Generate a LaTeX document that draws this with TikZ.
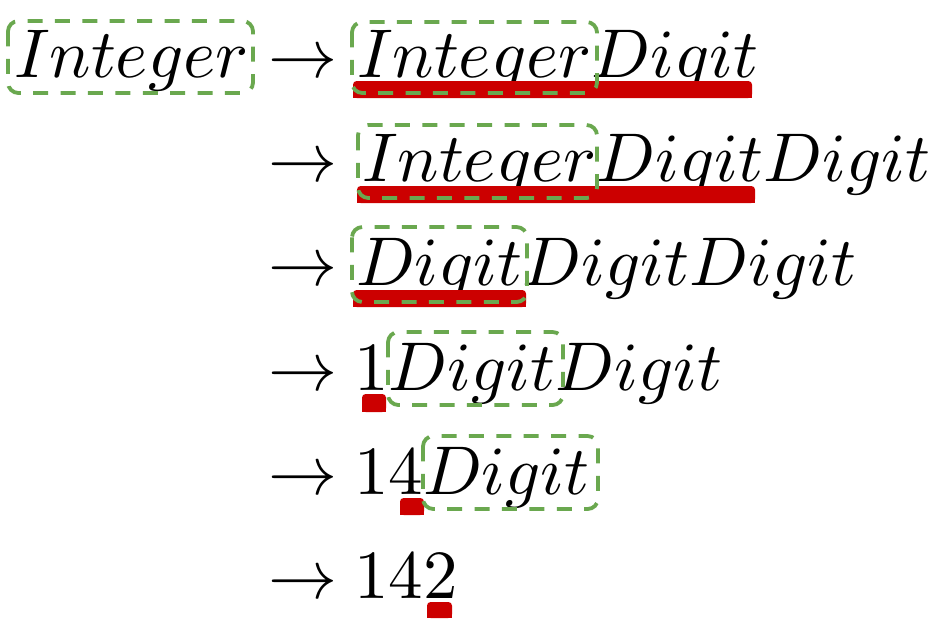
\documentclass[tikz,border=0pt]{standalone}
\usetikzlibrary{calc}
\definecolor{gboxc}{HTML}{6AA84F}
\definecolor{rbarc}{HTML}{CC0000}
\tikzset{
  tok/.style={inner sep=0pt, outer sep=0pt, anchor=base west, scale=1.725},
  gbox/.style={draw=gboxc, line width=0.95pt, dash pattern=on 3.75pt off 3.1pt, rounded corners=2.6pt},
  rbar/.style={fill=rbarc},
}
\newcommand\myredbar[4]{%
  \fill[rbar, rounded corners=0.9pt] (#1,#2) rectangle (#3,#4);
  \fill[rbar] (#1,#2+6) rectangle (#3,#4);}
\begin{document}
\begin{tikzpicture}[x=0.25pt,y=-0.25pt]
\useasboundingbox (0,0) rectangle (944,634);
% ---- text ----
% row 1
\node[tok] (l0)  at (14,77) {$Integer$};
\node[tok] (a1)  at (268,77) {$\to$};
\node[tok] (r1a) at (357,77) {$Integer$};
\node[tok] (r1b) at (r1a.base east) {$Digit$};
% row 2
\node[tok] (a2)  at (268,181) {$\to$};
\node[tok] (r2a) at (362,181) {$Integer$};
\node[tok] (r2b) at (r2a.base east) {$Digit$};
\node[tok] (r2c) at (r2b.base east) {$Digit$};
% row 3
\node[tok] (a3)  at (268,285) {$\to$};
\node[tok] (r3a) at (356,285) {$Digit$};
\node[tok] (r3b) at (r3a.base east) {$Digit$};
\node[tok] (r3c) at (r3b.base east) {$Digit$};
% row 4
\node[tok] (a4)  at (268,390) {$\to$};
\node[tok] (r4a) at (354,390) {$1$};
\node[tok] (r4b) at (r4a.base east) {$Digit$};
\node[tok] (r4c) at (r4b.base east) {$Digit$};
% row 5
\node[tok] (a5)  at (268,494) {$\to$};
\node[tok] (r5a) at (354,494) {$1$};
\node[tok] (r5b) at (r5a.base east) {$4$};
\node[tok] (r5c) at (r5b.base east) {$Digit$};
% row 6
\node[tok] (a6)  at (268,598) {$\to$};
\node[tok] (r6a) at (354,598) {$1$};
\node[tok] (r6b) at (r6a.base east) {$4$};
\node[tok] (r6c) at (r6b.base east) {$2$};
% ---- red bars ----
\myredbar{353}{81}{752}{98}
\myredbar{357}{186}{755}{203}
\myredbar{353}{290}{526}{307}
\myredbar{362}{394}{386}{412}
\myredbar{400}{498}{424}{515}
\myredbar{427}{602}{452}{618}
% ---- green dashed boxes ----
\draw[gbox] (8,21) rectangle (253,93);
\draw[gbox] (352,22) rectangle (597,93);
\draw[gbox] (358,125) rectangle (597,198);
\draw[gbox] (352,227) rectangle (527,302);
\draw[gbox] (388,332) rectangle (563,405);
\draw[gbox] (423,436) rectangle (598,509);
\end{tikzpicture}
\end{document}
